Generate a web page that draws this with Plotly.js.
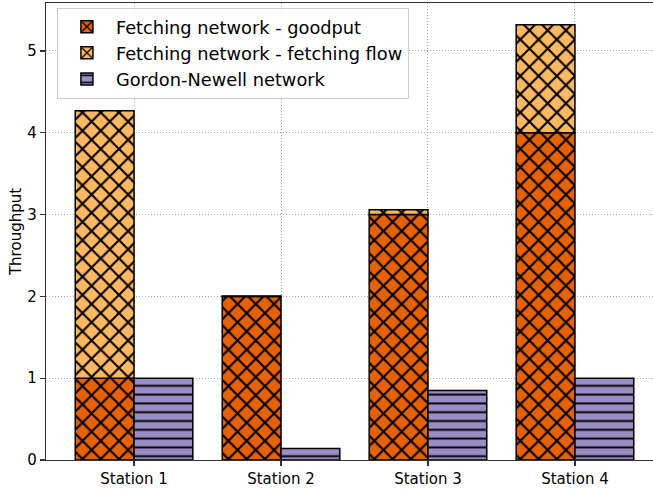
<!DOCTYPE html>
<html>
<head>
<meta charset="utf-8">
<script src="https://cdn.plot.ly/plotly-3.0.1.min.js"></script>
<style>
html,body{margin:0;padding:0;overflow:hidden;background:#fff;}
#chart{width:653px;height:490px;}
</style>
</head>
<body>
<div id="chart"></div>
<script>
const categories = ["Station 1", "Station 2", "Station 3", "Station 4"];
const goodput = [1.0, 2.0, 3.0, 4.0];
const fetchingFlowExtra = [3.27, 0.005, 0.06, 1.32];
const gordonNewell = [1.0, 0.14, 0.85, 1.0];
const yTicks = [0, 1, 2, 3, 4, 5];

const cGood = "#e66101", cFetch = "#fdb863", cGN = "#998ec3";
const xPat = {shape: "x", fgcolor: "#000000", size: 12.9, solidity: 0.3};
const hPat = {shape: "-", fgcolor: "#000000", size: 8.8, solidity: 0.22};
const edge = {color: "#000000", width: 1.5};
const fontFam = "DejaVu Sans";

const traces = [
  {
    type: "bar", name: "Fetching network - goodput", x: categories, y: goodput,
    offset: -0.4, width: 0.4, legendgroup: "a",
    marker: {color: cGood, line: edge, pattern: Object.assign({bgcolor: cGood}, xPat)},
    hoverinfo: "skip"
  },
  {
    type: "bar", name: "Fetching network - fetching flow", x: categories, y: fetchingFlowExtra,
    base: goodput, offset: -0.4, width: 0.4, legendgroup: "b",
    marker: {color: cFetch, line: edge, pattern: Object.assign({bgcolor: cFetch}, xPat)},
    hoverinfo: "skip"
  },
  {
    type: "bar", name: "Gordon-Newell network", x: categories, y: gordonNewell,
    offset: 0, width: 0.4, legendgroup: "c",
    marker: {color: cGN, line: edge, pattern: Object.assign({bgcolor: cGN}, hPat)},
    hoverinfo: "skip"
  }
];

const layout = {
  width: 653, height: 490,
  margin: {l: 46, r: 0, t: 3, b: 30, pad: 0},
  paper_bgcolor: "#ffffff", plot_bgcolor: "#ffffff",
  font: {family: fontFam, size: 15, color: "#000000"},
  barmode: "overlay",
  showlegend: true,
  legend: {
    x: 0.018, y: 0.99, xanchor: "left", yanchor: "top",
    bgcolor: "rgba(255,255,255,0.85)", bordercolor: "#cccccc", borderwidth: 1,
    font: {family: fontFam, size: 17.8, color: "#000000"},
    traceorder: "grouped", tracegroupgap: 0, itemwidth: 48
  },
  xaxis: {
    type: "category", range: [-0.599, 3.531],
    showline: true, linecolor: "#333333", linewidth: 1.2, mirror: true,
    ticks: "outside", ticklen: 5, tickcolor: "#333333", tickwidth: 1.2,
    showgrid: true, gridcolor: "#aaaaaa", griddash: "1px,2px", gridwidth: 1,
    tickfont: {family: fontFam, size: 15, color: "#000000"},
    zeroline: false, fixedrange: true
  },
  yaxis: {
    range: [0, 5.586], tickvals: yTicks, ticktext: yTicks.map(String),
    showline: true, linecolor: "#333333", linewidth: 1.2,
    ticks: "outside", ticklen: 5, tickcolor: "#333333", tickwidth: 1.2,
    showgrid: true, gridcolor: "#aaaaaa", griddash: "1px,2px", gridwidth: 1,
    tickfont: {family: fontFam, size: 15, color: "#000000"},
    title: {text: "Throughput", font: {family: fontFam, size: 15, color: "#000000"}, standoff: 2},
    zeroline: false, fixedrange: true, automargin: false
  }
};

Plotly.newPlot("chart", traces, layout, {displayModeBar: false, staticPlot: true});
</script>
</body>
</html>
